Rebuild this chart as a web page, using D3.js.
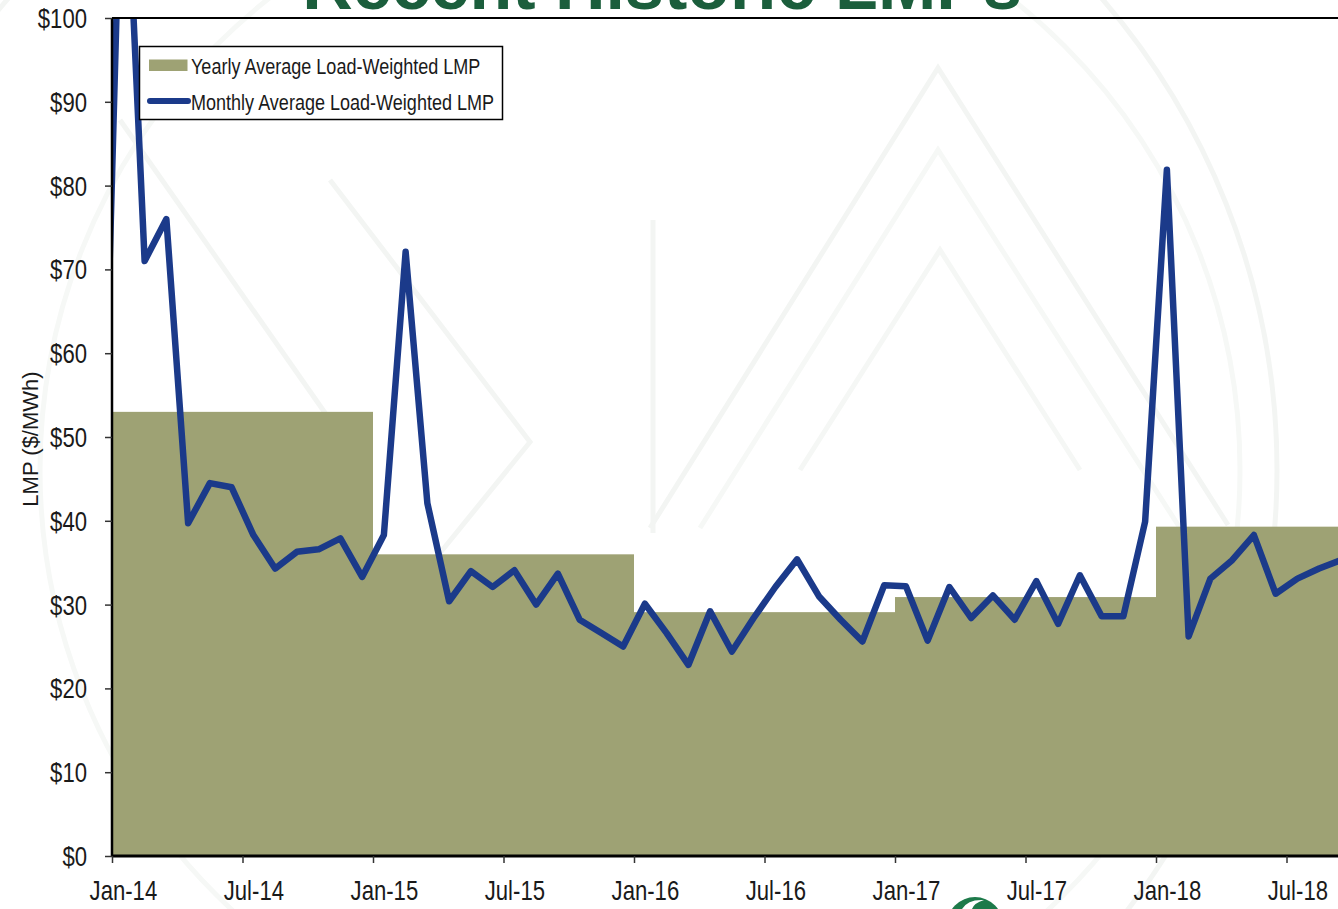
<!DOCTYPE html>
<html>
<head>
<meta charset="utf-8">
<script src="https://cdn.jsdelivr.net/npm/d3@7"></script>
<style>
  html, body { margin: 0; padding: 0; background: #ffffff; overflow: hidden; }
  svg { display: block; }
  .ax text { font-family: "Liberation Sans", Arial, sans-serif; fill: #1a1a1a; }
</style>
</head>
<body>
<svg id="chart" width="1338" height="909"></svg>
<script>
// ---------------- data ----------------
const chartTitle = "Recent Historic LMPs";
const yAxisTitle = "LMP ($/MWh)";
const legendLabels = ["Yearly Average Load-Weighted LMP", "Monthly Average Load-Weighted LMP"];

// month index 0 = Jan-14; first value (index -1) is Dec-13
const monthStartIndex = -1;
const monthlyLMP = [
  34,                                                                 // Dec-13
  128, 71.0, 76.0, 39.7, 44.5, 44.0, 38.3, 34.3, 36.3, 36.6, 37.9, 33.3, // 2014
  38.3, 72.1, 42.1, 30.4, 34.0, 32.1, 34.1, 30.0, 33.7, 28.2, 26.6, 25.0, // 2015
  30.1, 26.6, 22.8, 29.2, 24.4, 28.4, 32.1, 35.4, 31.0, 28.2, 25.6, 32.3, // 2016
  32.2, 25.7, 32.1, 28.4, 31.1, 28.2, 32.8, 27.7, 33.5, 28.6, 28.6, 39.9, // 2017
  81.9, 26.2, 33.1, 35.3, 38.3, 31.3, 33.1, 34.3, 35.3                    // 2018 (Jan-Sep)
];

const years = [2014, 2015, 2016, 2017, 2018];
const yearlyLMP = [53.0, 36.0, 29.1, 30.9, 39.3];

const xTickLabels = ["Jan-14", "Jul-14", "Jan-15", "Jul-15", "Jan-16", "Jul-16", "Jan-17", "Jul-17", "Jan-18", "Jul-18"];
const yTickValues = [0, 10, 20, 30, 40, 50, 60, 70, 80, 90, 100];

// ---------------- layout ----------------
const W = 1338, H = 909;
const pLeft = 112, pTop = 18, pBottom = 856;
const totalMonths = 60;               // Jan-14 .. Dec-18
const monthW = 21.75;
const narrow = 0.82;                  // horizontal compression to mimic a narrow face

const svg = d3.select("#chart");

const x = d3.scaleLinear().domain([0, totalMonths]).range([pLeft, pLeft + totalMonths * monthW]);
const y = d3.scaleLinear().domain([0, 100]).range([pBottom, pTop]);

// ---------------- watermark ----------------
const wm = svg.append("g").attr("fill", "none").attr("stroke", "#f3f5f3").attr("stroke-width", 5);
wm.append("circle").attr("cx", 555).attr("cy", 470).attr("r", 722);
wm.append("circle").attr("cx", 640).attr("cy", 470).attr("r", 600).attr("stroke", "#f6f8f6");
wm.append("path").attr("d", "M650,528 L938,68 L1228,525");
wm.append("path").attr("d", "M700,528 L938,150 L1180,528").attr("stroke", "#f6f8f6");
wm.append("path").attr("d", "M800,470 L940,250 L1080,470").attr("stroke", "#f5f7f5");
wm.append("path").attr("d", "M653,220 L653,533");
wm.append("path").attr("d", "M330,180 L530,442 L440,553");
wm.append("path").attr("d", "M120,120 L330,420");

// ---------------- title ----------------
svg.append("text")
  .attr("x", 662).attr("y", 9)
  .attr("text-anchor", "middle")
  .attr("font-family", "Liberation Sans, Arial, sans-serif")
  .attr("font-weight", "bold")
  .attr("font-size", 70)
  .attr("fill", "#1b5e3c")
  .text(chartTitle);

// ---------------- clip ----------------
svg.append("defs").append("clipPath").attr("id", "plotClip")
  .append("rect").attr("x", pLeft).attr("y", pTop).attr("width", W - pLeft + 200).attr("height", pBottom - pTop);

const plot = svg.append("g").attr("clip-path", "url(#plotClip)");

// yearly bars (stepped blocks)
plot.selectAll("rect.year").data(years).enter().append("rect")
  .attr("class", "year")
  .attr("x", (d, i) => x(i * 12))
  .attr("width", (d, i) => x(i * 12 + 12) - x(i * 12))
  .attr("y", (d, i) => y(yearlyLMP[i]))
  .attr("height", (d, i) => y(0) - y(yearlyLMP[i]))
  .attr("fill", "#9ea274");

// monthly line
const line = d3.line()
  .x((d, i) => x(monthStartIndex + i + 0.5))
  .y(d => y(d));

plot.append("path")
  .datum(monthlyLMP)
  .attr("d", line)
  .attr("fill", "none")
  .attr("stroke", "#1b3a8a")
  .attr("stroke-width", 6.5)
  .attr("stroke-linejoin", "round")
  .attr("stroke-linecap", "round");

// plot top border
svg.append("line")
  .attr("x1", pLeft).attr("x2", W).attr("y1", pTop).attr("y2", pTop)
  .attr("stroke", "#000").attr("stroke-width", 2);

// ---------------- axes ----------------
const yAxis = d3.axisLeft(y).tickValues(yTickValues).tickFormat(d => "$" + d).tickSize(7).tickPadding(17);
const gy = svg.append("g").attr("class", "ax").attr("transform", `translate(${pLeft},0)`).call(yAxis);
gy.select(".domain").attr("stroke", "#000").attr("stroke-width", 2.5).attr("d", `M0,${pTop}V${pBottom}`);
gy.selectAll(".tick line").attr("stroke", "#333").attr("stroke-width", 1.5);
gy.selectAll(".tick text")
  .attr("font-size", 27)
  .attr("dy", "0.35em")
  .attr("x", -25 / narrow)
  .attr("transform", `scale(${narrow},1)`);

const xTickVals = xTickLabels.map((d, i) => i * 6);
const xAxis = d3.axisBottom(x).tickValues(xTickVals).tickFormat((d, i) => xTickLabels[i]).tickSize(7);
const gx = svg.append("g").attr("class", "ax").attr("transform", `translate(0,${pBottom})`).call(xAxis);
gx.select(".domain").attr("stroke", "#000").attr("stroke-width", 3).attr("d", `M${pLeft},0H${W}`);
gx.selectAll(".tick line").attr("stroke", "#333").attr("stroke-width", 1.5);
gx.selectAll(".tick text")
  .attr("font-size", 27)
  .attr("x", (monthW / 2) / narrow)
  .attr("y", 44)
  .attr("dy", null)
  .attr("transform", `scale(${narrow},1)`);

// y axis title
svg.append("text")
  .attr("transform", `translate(38,${(pTop + pBottom) / 2 + 2}) rotate(-90)`)
  .attr("text-anchor", "middle")
  .attr("font-family", "Liberation Sans, Arial, sans-serif")
  .attr("font-size", 22)
  .attr("fill", "#1a1a1a")
  .text(yAxisTitle);

// ---------------- legend ----------------
const lg = svg.append("g");
lg.append("rect").attr("x", 139.5).attr("y", 46.5).attr("width", 363).attr("height", 73)
  .attr("fill", "#fff").attr("stroke", "#000").attr("stroke-width", 1.5);
lg.append("rect").attr("x", 149).attr("y", 59.5).attr("width", 38.5).attr("height", 11.5).attr("fill", "#9ea274");
lg.append("line").attr("x1", 150).attr("x2", 188).attr("y1", 101).attr("y2", 101)
  .attr("stroke", "#1b3a8a").attr("stroke-width", 6).attr("stroke-linecap", "round");
lg.selectAll("g.lg").data(legendLabels).enter().append("g")
  .attr("class", "lg")
  .attr("transform", (d, i) => `translate(191,${74 + i * 36})`)
  .append("text")
  .attr("transform", `scale(${narrow},1)`)
  .attr("font-family", "Liberation Sans, Arial, sans-serif")
  .attr("font-size", 22)
  .attr("fill", "#1a1a1a")
  .text(d => d);

// ---------------- logo fragment ----------------
svg.append("circle").attr("cx", 975).attr("cy", 925).attr("r", 28).attr("fill", "#1d7a4a");
svg.append("path").attr("d", "M962,909 Q968,899 984,900 Q974,903 972,909 Z").attr("fill", "#ffffff");
</script>
</body>
</html>
